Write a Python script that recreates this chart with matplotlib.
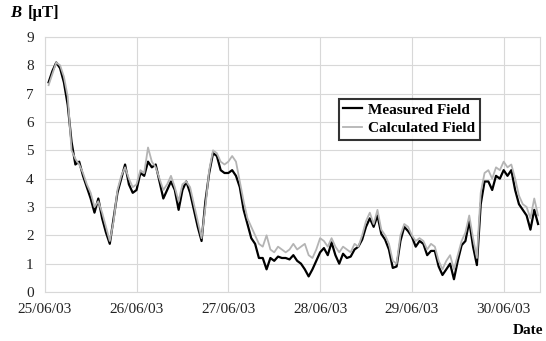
import matplotlib
matplotlib.use("Agg")
import matplotlib.pyplot as plt

plt.rcParams['font.family'] = ['Liberation Serif', 'DejaVu Serif']

# hourly samples, hours since 25/06/03 00:00
hours = list(range(1, 130))

measured = [
    7.4, 7.8, 8.1, 7.9, 7.4, 6.6, 5.3, 4.5, 4.6, 4.1,
    3.7, 3.3, 2.8, 3.3, 2.6, 2.1, 1.7, 2.6, 3.5, 4.0,
    4.5, 3.8, 3.5, 3.6, 4.2, 4.1, 4.6, 4.4, 4.5, 3.9,
    3.3, 3.6, 3.9, 3.6, 2.9, 3.6, 3.9, 3.5, 2.9, 2.3,
    1.8, 3.2, 4.2, 4.9, 4.8, 4.3, 4.2, 4.2, 4.3, 4.1,
    3.7, 2.9, 2.4, 1.9, 1.7, 1.2, 1.2, 0.8, 1.2, 1.1,
    1.25, 1.2, 1.2, 1.15, 1.3, 1.1, 1.0, 0.8, 0.55, 0.8,
    1.1, 1.4, 1.55, 1.3, 1.75, 1.3, 1.0, 1.35, 1.2, 1.25,
    1.5, 1.6, 1.85, 2.3, 2.6, 2.3, 2.7, 2.05, 1.85, 1.5,
    0.85, 0.9, 1.8, 2.3, 2.15, 1.95, 1.6, 1.8, 1.7, 1.3,
    1.45, 1.45, 0.9, 0.6, 0.8, 1.0, 0.45, 1.1, 1.65, 1.8,
    2.5, 1.6, 0.95, 3.1, 3.9, 3.9, 3.6, 4.1, 4.0, 4.3,
    4.1, 4.3, 3.6, 3.1, 2.9, 2.7, 2.2, 2.9, 2.4,
]

calculated = [
    7.3, 7.7, 8.1, 8.0, 7.6, 6.9, 5.0, 4.7, 4.5, 4.2,
    3.8, 3.5, 3.0, 3.2, 2.8, 2.3, 1.8, 2.5, 3.6, 4.1,
    4.4, 4.0, 3.7, 3.8, 4.3, 4.2, 5.1, 4.6, 4.4, 4.0,
    3.6, 3.8, 4.1, 3.7, 3.2, 3.8, 3.9, 3.7, 3.1, 2.5,
    1.9, 3.0, 4.3, 5.0, 4.9, 4.6, 4.5, 4.6, 4.8, 4.6,
    3.9, 3.2, 2.6, 2.3, 2.0, 1.7, 1.6, 2.0, 1.5, 1.4,
    1.6, 1.5, 1.4, 1.5, 1.7, 1.5, 1.6, 1.7, 1.3, 1.2,
    1.5, 1.9, 1.8, 1.6, 1.9, 1.6, 1.4, 1.6, 1.5, 1.4,
    1.7, 1.6, 2.0, 2.5, 2.8, 2.4, 2.9, 2.2, 2.0, 1.7,
    1.1, 1.0, 2.0, 2.4, 2.3, 2.0, 1.8, 1.9, 1.8, 1.5,
    1.7, 1.6, 1.1, 0.8, 1.1, 1.3, 0.8, 1.3, 1.8, 2.1,
    2.7, 1.9, 1.2, 3.5, 4.2, 4.3, 4.0, 4.4, 4.3, 4.6,
    4.4, 4.5, 4.0, 3.4, 3.1, 3.0, 2.6, 3.3, 2.7,
]

day_labels = ['25/06/03', '26/06/03', '27/06/03', '28/06/03', '29/06/03', '30/06/03']
day_ticks = [24 * i for i in range(len(day_labels))]

fig = plt.figure(figsize=(5.46, 3.41), dpi=100)
ax = fig.add_axes([0.082, 0.1437, 0.907, 0.7478])

ax.plot(hours, measured, color='black', lw=1.6, label='Measured Field')
ax.plot(hours, calculated, color='#b4b4b4', lw=1.3, label='Calculated Field')

ax.set_xlim(0, 129.5)
ax.set_ylim(0, 9)
ax.set_yticks(range(10))
ax.set_xticks(day_ticks)
ax.set_xticklabels(day_labels)
ax.grid(True, color='#d8d8d8', lw=0.8)
ax.set_axisbelow(True)
ax.tick_params(length=0, labelsize=11, colors='#222222', pad=8)
for s in ax.spines.values():
    s.set_color('#d8d8d8')
    s.set_linewidth(0.8)

# y-axis title: italic B followed by the unit
fig.text(0.018, 0.962, 'B', fontsize=12, fontweight='bold', fontstyle='italic',
         va='center')
fig.text(0.05, 0.962, '[\u03bcT]', fontsize=12, fontweight='bold', va='center')
fig.text(0.995, 0.03, 'Date', fontsize=11, fontweight='bold', ha='right', va='center')

leg = ax.legend(loc='center', bbox_to_anchor=(0.736, 0.678), frameon=True,
                fancybox=False, prop={'weight': 'bold', 'size': 11},
                handlelength=1.2, handletextpad=0.4, borderpad=0.3,
                labelspacing=0.3, shadow=False)
leg.get_frame().set_edgecolor('black')
leg.get_frame().set_linewidth(1.5)

fig.savefig('out.png', dpi=100)
